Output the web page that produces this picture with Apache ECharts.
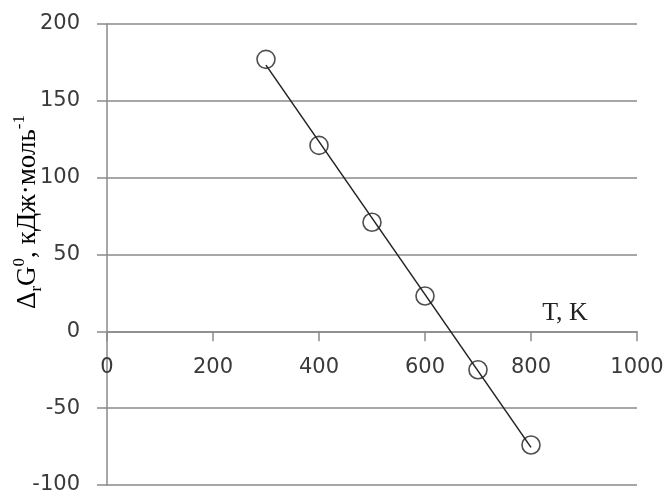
<!DOCTYPE html>
<html><head><meta charset="utf-8">
<script src="https://cdn.jsdelivr.net/npm/echarts@6/dist/echarts.min.js"></script>
<style>html,body{margin:0;padding:0;background:#fff}#c{width:664px;height:496px}</style>
</head><body><div id="c"></div>
<script>
var temps = [300, 400, 500, 600, 700, 800];
var dG = [177, 121, 71, 23, -25, -74];
var xTicks = [0, 200, 400, 600, 800, 1000];
var yTicks = [-100, -50, 0, 50, 100, 150, 200];

// least-squares trend line through the measured points
var n = temps.length, mx = 0, my = 0;
for (var i = 0; i < n; i++) { mx += temps[i]; my += dG[i]; }
mx /= n; my /= n;
var sxy = 0, sxx = 0;
for (var i = 0; i < n; i++) { sxy += (temps[i]-mx)*(dG[i]-my); sxx += (temps[i]-mx)*(temps[i]-mx); }
var slope = sxy/sxx, icpt = my - slope*mx;
var xs0 = temps[0], xs1 = temps[n-1];
var trend = [[xs0, icpt + slope*xs0], [xs1, icpt + slope*xs1]];

var gridTop = 24, gridBottom = 11, H = 496;
var yMin = yTicks[0], yMax = yTicks[yTicks.length-1];
var plotH = H - gridTop - gridBottom;
// shift the x axis up so it sits on y = 0
var zeroOffset = -plotH * (0 - yMin) / (yMax - yMin);

var chart = echarts.init(document.getElementById('c'));
var lblFont = {fontFamily: 'DejaVu Sans', fontSize: 21, color: '#3a3a3a', formatter: function(v){ return String(v); }};
chart.setOption({
  animation: false,
  backgroundColor: '#fff',
  grid: {left: 107, right: 27, top: gridTop, bottom: gridBottom, containLabel: false, outerBoundsMode: 'none'},
  xAxis: {
    type: 'value', min: xTicks[0], max: xTicks[xTicks.length-1], interval: 200,
    offset: zeroOffset,
    axisLine: {show: true, onZero: false, lineStyle: {color: '#8a8a8a', width: 1.5}},
    axisTick: {show: true, length: 10, lineStyle: {color: '#8a8a8a', width: 1.5}},
    axisLabel: Object.assign({margin: 26}, lblFont),
    splitLine: {show: false}
  },
  yAxis: {
    type: 'value', min: yMin, max: yMax, interval: 50,
    axisLine: {show: true, onZero: false, lineStyle: {color: '#8a8a8a', width: 1.5}},
    axisTick: {show: true, length: 10, lineStyle: {color: '#8a8a8a', width: 1.5}},
    axisLabel: Object.assign({margin: 27}, lblFont),
    splitLine: {show: true, lineStyle: {color: '#8a8a8a', width: 1.5}}
  },
  graphic: [
    {type: 'text', x: 28, y: 212, rotation: Math.PI/2,
     style: {text: '{m|Δ}{s|r}{m|G}{p|0}{m|, кДж·моль}{p|-1}', align: 'center', verticalAlign: 'middle',
       rich: {
         m: {fontFamily: 'Liberation Serif', fontSize: 27, color: '#222', lineHeight: 34, verticalAlign: 'middle'},
         s: {fontFamily: 'Liberation Serif', fontSize: 17, color: '#222', lineHeight: 34, verticalAlign: 'bottom'},
         p: {fontFamily: 'Liberation Serif', fontSize: 17, color: '#222', lineHeight: 34, verticalAlign: 'top'}
       }}},
    {type: 'text', x: 565, y: 313,
     style: {text: 'T, K', align: 'center', verticalAlign: 'middle', fontFamily: 'Liberation Serif', fontSize: 26, fill: '#222'}}
  ],
  series: [
    {type: 'line', data: trend, symbol: 'none', lineStyle: {color: '#222', width: 1.5}, z: 3},
    {type: 'scatter', data: temps.map(function(t, i){ return [t, dG[i]]; }), symbol: 'circle', symbolSize: 18,
     itemStyle: {color: 'rgba(0,0,0,0)', borderColor: '#222', borderWidth: 1.6}, z: 4}
  ]
});
</script></body></html>
